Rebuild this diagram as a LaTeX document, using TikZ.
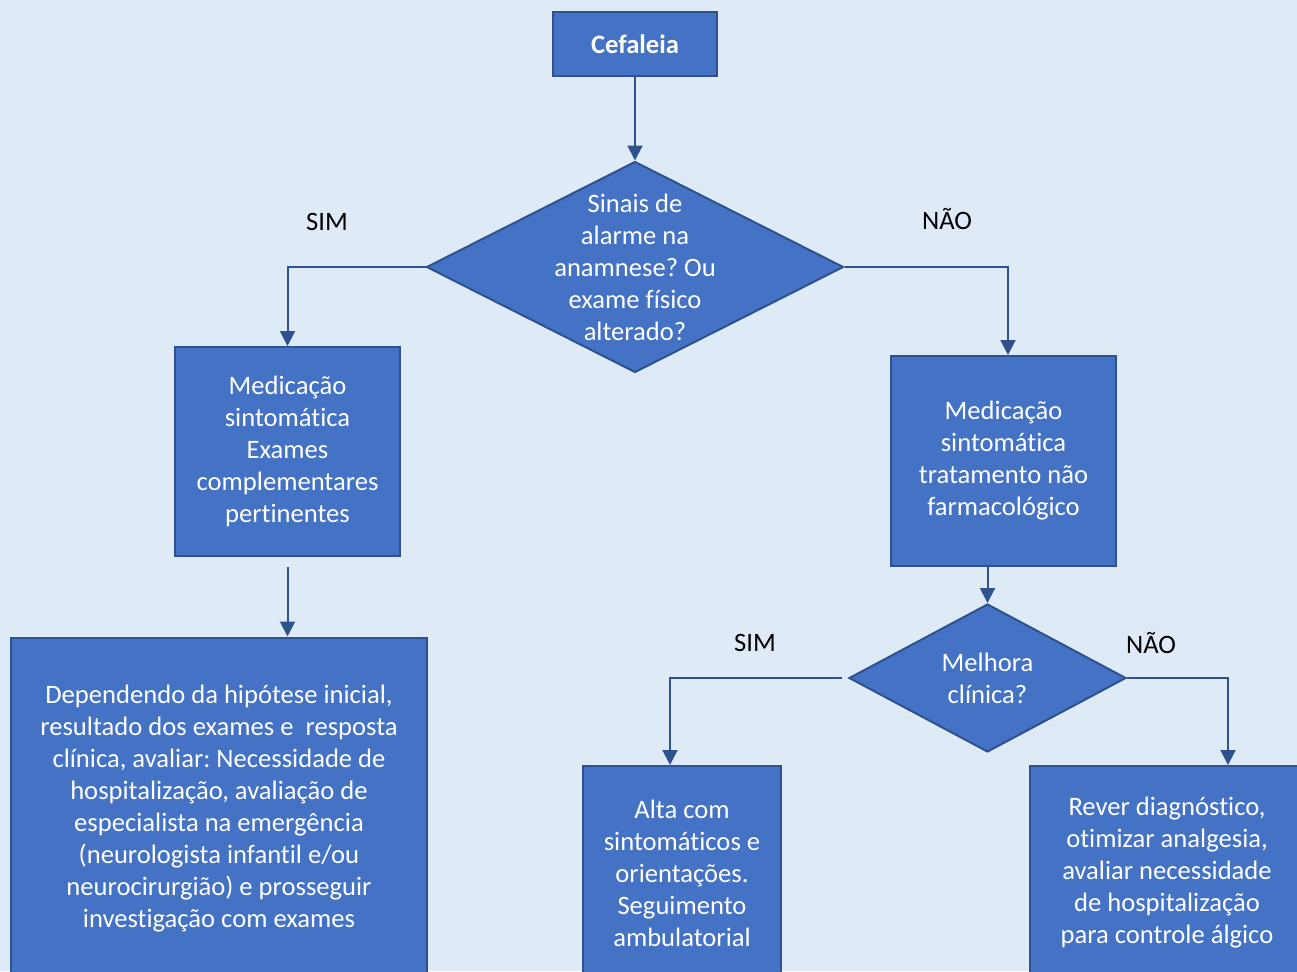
\documentclass[tikz,border=0pt]{standalone}
\usepackage{fontspec}
\setmainfont[Ligatures={NoCommon}]{Carlito}
\usetikzlibrary{shapes.geometric,arrows.meta}
\definecolor{fundo}{HTML}{DEEBF7}
\definecolor{azul}{HTML}{4472C4}
\definecolor{borda}{HTML}{2F528F}
\frenchspacing

\begin{document}
\begin{tikzpicture}[x=1pt, y=-1pt,
    texto/.style={text=white, align=center, font=\fontsize{26.6}{32}\selectfont},
    caixa/.style={draw=borda, fill=azul, line width=2pt, inner sep=0pt, texto},
    decisao/.style={diamond, draw=borda, fill=azul, line width=2pt, inner sep=0pt},
    resposta/.style={font=\fontsize{26.6}{32}\selectfont},
    seta/.style={draw=borda, line width=2pt, -{Triangle[length=15pt, width=15pt]}}]
      \path[fill=fundo, use as bounding box] (0, 0) rectangle (1297, 971);
      \clip (0, 0) rectangle (1297, 971);
      \node[caixa, minimum width=164, minimum height=64, font=\fontsize{26.6}{32}\selectfont\bfseries] (Cefaleia) at (635, 44) {Cefaleia};
      \node[decisao, minimum width=417, minimum height=211,
        label={[texto]center:Sinais de\\alarme na\\anamnese? Ou\\exame físico\\alterado?}] (Sinais) at (635, 267) {};
      \node[resposta] (Sinais Sim) at (327, 222) {SIM};
      \node[resposta] (Sinais Nao) at (947, 219) {NÃO};
      \node[caixa, minimum width=225, minimum height=209] (Sim Medicacao) at (287.5, 451.5)
        {Medicação\\sintomática\\Exames\\complementares\\pertinentes};
      \node[caixa, minimum width=225, minimum height=210] (Nao Medicacao) at (1003.5, 461)
        {Medicação\\sintomática\\tratamento não\\farmacológico};
      \node[caixa, minimum width=416, minimum height=343] (Sim Avaliar) at (219, 809)
        {Dependendo da hipótese inicial,\\resultado dos exames e~ resposta\\clínica, avaliar: Necessidade de\\hospitalização, avaliação de\\especialista na emergência\\(neurologista infantil e/ou\\neurocirurgião) e prosseguir\\investigação com exames};
      \node[decisao, minimum width=277, minimum height=148,
        label={[texto]center:Melhora\\clínica?}] (Melhora) at (987.5, 678) {};
      \node[resposta] (Melhora Sim) at (755, 643) {SIM};
      \node[resposta] (Melhora Nao) at (1151, 643) {NÃO};
      \node[caixa, minimum width=198, minimum height=214] (Melhora Alta) at (682, 873)
        {Alta com\\sintomáticos e\\orientações.\\Seguimento\\ambulatorial};
      \node[caixa, minimum width=274, minimum height=214] (Melhora Rever) at (1167, 873)
        {Rever diagnóstico,\\otimizar analgesia,\\avaliar necessidade\\de hospitalização\\para controle álgico};
      \coordinate (Alta Topo) at ([xshift=-12pt]Melhora Alta.north);
      \coordinate (Rever Topo) at ([xshift=61pt]Melhora Rever.north);
      \draw[seta] (Cefaleia) -- (Sinais.north);
      \draw[seta] (Sinais.west) -| (Sim Medicacao.north);
      \draw[seta] (Sinais.east) -| ([xshift=4.5pt]Nao Medicacao.north);
      \draw[seta] ([yshift=-10pt]Sim Medicacao.south) -- (Sim Medicacao.south |- Sim Avaliar.north);
      \draw[seta] (Melhora.north |- Nao Medicacao.south) -- (Melhora.north);
      \draw[seta] ([xshift=-6pt]Melhora.west) -| (Alta Topo);
      \draw[seta] (Melhora.east) -| (Rever Topo);
\end{tikzpicture}
\end{document}
